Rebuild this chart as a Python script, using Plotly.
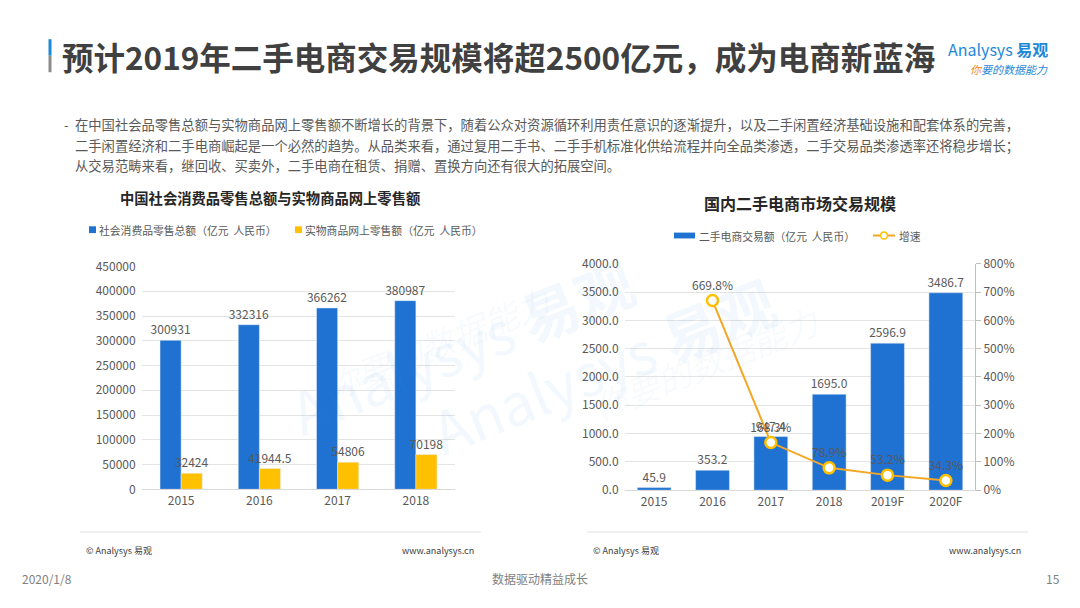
import plotly.graph_objects as go

# 左图：社会消费品零售总额 / 实物商品网上零售额（亿元）
years_left = ["2015", "2016", "2017", "2018"]
retail_total = [300931, 332316, 366262, 380987]
online_retail = [32424, 41944.5, 54806, 70198]

# 右图：二手电商交易额（亿元）与增速
years_right = ["2015", "2016", "2017", "2018", "2019F", "2020F"]
second_hand = [45.9, 353.2, 947.4, 1695.0, 2596.9, 3486.7]
growth_years = ["2016", "2017", "2018", "2019F", "2020F"]
growth = [669.8, 168.3, 78.9, 53.2, 34.3]

FONT = "Noto Sans CJK SC"
BLUE = "#1f72d2"
YELLOW = "#ffc000"
ORANGE = "#f5a623"
GREY = "#595959"
GRID = "#e4e4e4"
W, H = 1080, 608


def px(x):
    return x / W


def py(y):
    return 1 - y / H


fig = go.Figure()

# 左图柱子
fig.add_trace(go.Bar(
    x=years_left, y=retail_total, name="社会消费品零售总额",
    marker_color=BLUE, text=[str(v) for v in retail_total], textposition="outside",
    textfont=dict(size=12, color=GREY), cliponaxis=False, constraintext="none",
    xaxis="x", yaxis="y"))
fig.add_trace(go.Bar(
    x=years_left, y=online_retail, name="实物商品网上零售额",
    marker_color=YELLOW, text=[f"{v:g}" for v in online_retail], textposition="outside",
    textfont=dict(size=12, color=GREY), cliponaxis=False, constraintext="none",
    xaxis="x", yaxis="y"))

# 右图柱子 + 增速折线
fig.add_trace(go.Bar(
    x=years_right, y=second_hand, name="二手电商交易额",
    marker_color=BLUE, text=[f"{v:.1f}" for v in second_hand], textposition="outside",
    textfont=dict(size=12, color=GREY), cliponaxis=False, constraintext="none",
    width=0.58, xaxis="x2", yaxis="y2"))
fig.add_trace(go.Scatter(
    x=growth_years, y=growth, name="增速", mode="lines+markers+text",
    line=dict(color=ORANGE, width=2),
    marker=dict(size=11, color="white", line=dict(color=YELLOW, width=2.5)),
    text=[f"{v:.1f}%" for v in growth], textposition="top center",
    textfont=dict(size=12, color=GREY), cliponaxis=False,
    xaxis="x2", yaxis="y3"))

axis_font = dict(family=FONT, size=12, color=GREY)

fig.update_layout(
    width=W, height=H,
    margin=dict(l=0, r=0, t=0, b=0),
    paper_bgcolor="white", plot_bgcolor="white",
    font=dict(family=FONT, color=GREY),
    barmode="group",
    bargap=0.46, bargroupgap=0,
    showlegend=False,
    xaxis=dict(domain=[0.1315, 0.4213], anchor="y", showgrid=False,
               showline=True, linecolor="#d9d9d9", tickfont=axis_font, ticks=""),
    yaxis=dict(domain=[0.189, 0.566], anchor="x", range=[0, 450000], dtick=50000,
               tickformat="d", showgrid=True, gridcolor=GRID, zeroline=False,
               tickfont=axis_font, ticksuffix="  "),
    xaxis2=dict(domain=[0.5787, 0.9028], anchor="y2", showgrid=False,
                showline=True, linecolor="#d9d9d9", tickfont=axis_font, ticks=""),
    yaxis2=dict(domain=[0.1875, 0.5707], anchor="x2", range=[0, 4000], dtick=500,
                tickformat=".1f", showgrid=True, gridcolor=GRID, zeroline=False,
                tickfont=axis_font, ticksuffix="  "),
    yaxis3=dict(overlaying="y2", side="right", anchor="x2", range=[0, 800], dtick=100,
                ticksuffix="%", showgrid=False, zeroline=False, showline=True,
                linecolor="#bfbfbf", ticks="outside", ticklen=5, tickcolor="#bfbfbf",
                tickfont=axis_font),
)

# 标题左侧色条
fig.add_shape(type="line", xref="paper", yref="paper", x0=px(50), x1=px(50),
              y0=py(30), y1=py(47), line=dict(color="#1e88d8", width=3))
fig.add_shape(type="line", xref="paper", yref="paper", x0=px(50), x1=px(50),
              y0=py(47), y1=py(64), line=dict(color="#8c8c8c", width=3))
fig.add_annotation(text="<b>预计2019年二手电商交易规模将超2500亿元，成为电商新蓝海</b>",
                   xref="paper", yref="paper", x=px(60), y=py(47),
                   xanchor="left", yanchor="middle", showarrow=False,
                   font=dict(family=FONT, size=31.5, color="#404040"))

# logo
fig.add_annotation(text="Analysys <b>易观</b>", xref="paper", yref="paper",
                   x=px(1050), y=py(40), xanchor="right", yanchor="middle",
                   showarrow=False, font=dict(family=FONT, size=16, color="#1e88d8"))
fig.add_annotation(text="<i><span style='color:#f28b1e'>你</span>要的数据能力</i>",
                   xref="paper", yref="paper", x=px(1050), y=py(61),
                   xanchor="right", yanchor="middle", showarrow=False,
                   font=dict(family=FONT, size=11, color="#1e88d8"))

# 正文
body = ["在中国社会品零售总额与实物商品网上零售额不断增长的背景下，随着公众对资源循环利用责任意识的逐渐提升，以及二手闲置经济基础设施和配套体系的完善，",
        "二手闲置经济和二手电商崛起是一个必然的趋势。从品类来看，通过复用二手书、二手手机标准化供给流程并向全品类渗透，二手交易品类渗透率还将稳步增长；",
        "从交易范畴来看，继回收、买卖外，二手电商在租赁、捐赠、置换方向还有很大的拓展空间。"]
fig.add_annotation(text="-", xref="paper", yref="paper", x=px(62), y=py(118),
                   xanchor="left", yanchor="middle", showarrow=False,
                   font=dict(family=FONT, size=13, color=GREY))
for i, line in enumerate(body):
    fig.add_annotation(text=line, xref="paper", yref="paper", x=px(73),
                       y=py(118 + 21 * i), xanchor="left", yanchor="middle",
                       showarrow=False, font=dict(family=FONT, size=13.3, color=GREY))

# 小标题
fig.add_annotation(text="<b>中国社会消费品零售总额与实物商品网上零售额</b>", xref="paper", yref="paper",
                   x=px(270), y=py(193), xanchor="center", yanchor="middle",
                   showarrow=False, font=dict(family=FONT, size=14.3, color="#262626"))
fig.add_annotation(text="<b>国内二手电商市场交易规模</b>", xref="paper", yref="paper",
                   x=px(800), y=py(199), xanchor="center", yanchor="middle",
                   showarrow=False, font=dict(family=FONT, size=16, color="#262626"))

# 图例（手工绘制，贴近原图的紧凑样式）
legend_font = dict(family=FONT, size=10.8, color=GREY)
fig.add_shape(type="rect", xref="paper", yref="paper", x0=px(89), x1=px(96),
              y0=py(229.5), y1=py(222.5), fillcolor=BLUE, line_width=0)
fig.add_annotation(text="社会消费品零售总额（亿元  人民币）", xref="paper", yref="paper",
                   x=px(97), y=py(226), xanchor="left", yanchor="middle",
                   showarrow=False, font=legend_font)
fig.add_shape(type="rect", xref="paper", yref="paper", x0=px(295), x1=px(302),
              y0=py(229.5), y1=py(222.5), fillcolor=YELLOW, line_width=0)
fig.add_annotation(text="实物商品网上零售额（亿元  人民币）", xref="paper", yref="paper",
                   x=px(303), y=py(226), xanchor="left", yanchor="middle",
                   showarrow=False, font=legend_font)

fig.add_shape(type="rect", xref="paper", yref="paper", x0=px(674), x1=px(695),
              y0=py(235), y1=py(229), fillcolor=BLUE, line_width=0)
fig.add_annotation(text="二手电商交易额（亿元  人民币）", xref="paper", yref="paper",
                   x=px(697), y=py(232), xanchor="left", yanchor="middle",
                   showarrow=False, font=legend_font)
fig.add_shape(type="line", xref="paper", yref="paper", x0=px(873), x1=px(895),
              y0=py(232), y1=py(232), line=dict(color=ORANGE, width=2))
fig.add_shape(type="circle", xref="paper", yref="paper", x0=px(880.5), x1=px(887.5),
              y0=py(235.5), y1=py(228.5), fillcolor="white", line=dict(color=YELLOW, width=1.5))
fig.add_annotation(text="增速", xref="paper", yref="paper",
                   x=px(897), y=py(232), xanchor="left", yanchor="middle",
                   showarrow=False, font=legend_font)

# 水印
for cx, cy in [(275, 345), (790, 365)]:
    fig.add_annotation(text="Analysys <b>易观</b>", xref="paper", yref="paper",
                       x=px(cx), y=py(cy), showarrow=False, textangle=-22,
                       font=dict(family=FONT, size=58, color="rgba(30,136,216,0.06)"))
    fig.add_annotation(text="<i>你要的数据能力</i>", xref="paper", yref="paper",
                       x=px(cx + 40), y=py(cy + 70), showarrow=False, textangle=-22,
                       font=dict(family=FONT, size=34, color="rgba(30,136,216,0.05)"))

# 页脚
for x0, x1 in [(80, 481), (587, 1028)]:
    fig.add_shape(type="line", xref="paper", yref="paper", x0=px(x0), x1=px(x1),
                  y0=py(537), y1=py(537), line=dict(color="#e0e0e0", width=1))
    fig.add_annotation(text="© Analysys 易观", xref="paper", yref="paper", x=px(x0 + 4),
                       y=py(556), xanchor="left", yanchor="middle", showarrow=False,
                       font=dict(family=FONT, size=9, color="#404040"))
    fig.add_annotation(text="www.analysys.cn", xref="paper", yref="paper", x=px(x1 - 5),
                       y=py(556), xanchor="right", yanchor="middle", showarrow=False,
                       font=dict(family=FONT, size=9, color="#404040"))

fig.add_annotation(text="2020/1/8", xref="paper", yref="paper", x=px(20), y=py(585),
                   xanchor="left", yanchor="middle", showarrow=False,
                   font=dict(family=FONT, size=12, color="#7f7f7f"))
fig.add_annotation(text="数据驱动精益成长", xref="paper", yref="paper", x=0.5, y=py(585),
                   xanchor="center", yanchor="middle", showarrow=False,
                   font=dict(family=FONT, size=12, color="#7f7f7f"))
fig.add_annotation(text="15", xref="paper", yref="paper", x=px(1062), y=py(585),
                   xanchor="right", yanchor="middle", showarrow=False,
                   font=dict(family=FONT, size=12, color="#7f7f7f"))

# 去掉页面默认边距和工具栏，让图表贴齐窗口
fig.write_html("out.html", config={"displayModeBar": False},
               post_script="document.body.style.margin='0';")
